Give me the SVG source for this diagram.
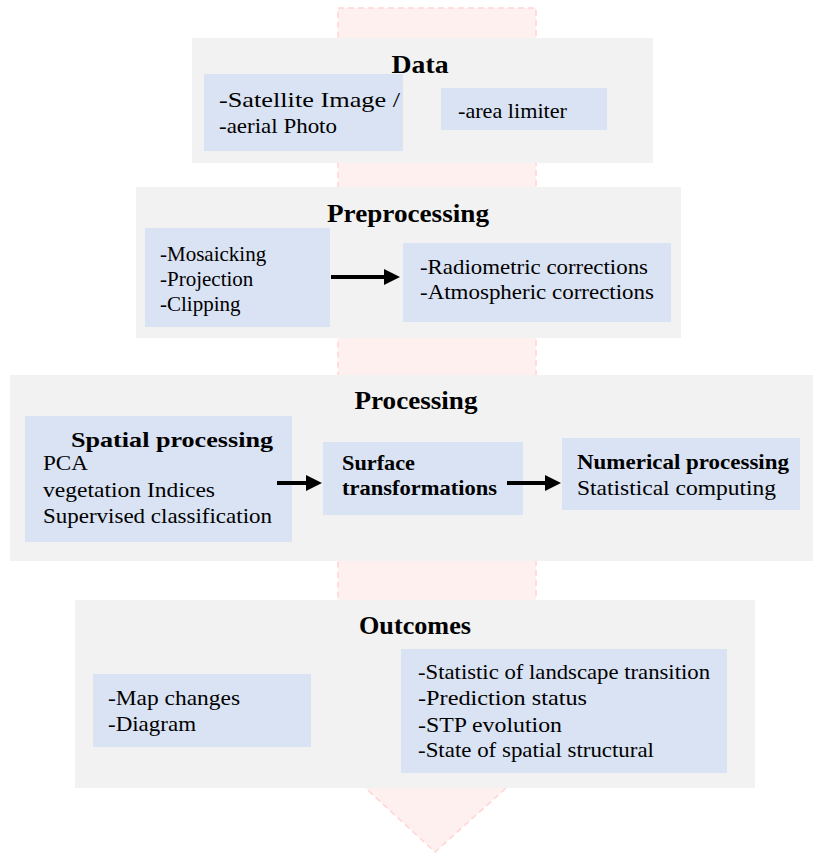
<svg xmlns="http://www.w3.org/2000/svg" width="813" height="853" viewBox="0 0 813 853">
<style>
.panel{fill:#f2f2f2}
.box{fill:#dae3f3}
.t{font-family:"Liberation Serif","Times New Roman",serif;font-size:21px;fill:#000}
.b{font-family:"Liberation Serif","Times New Roman",serif;font-size:21px;font-weight:bold;fill:#000}
.h{font-family:"Liberation Serif","Times New Roman",serif;font-size:26px;font-weight:bold;fill:#000;text-anchor:middle}
.bg{fill:#fff0f0;stroke:#ffd4d4;stroke-width:1.5;stroke-dasharray:6 4}
.conn{stroke:#000;stroke-width:4;fill:none}
</style>
<defs>
<marker id="ah" markerUnits="userSpaceOnUse" markerWidth="16" markerHeight="18" refX="2" refY="9" orient="auto">
<path d="M0,1 L16,9 L0,17 z" fill="#000"/>
</marker>
</defs>
<rect width="813" height="853" fill="#fff"/>
<g id="flow-arrow">
<path class="bg" d="M338,8 L536,8 L536,700 L604,700 L435,852 L270,700 L338,700 Z"/>
</g>
<g id="data">
<rect class="panel" x="192" y="38" width="461" height="125"/>
<text class="h" x="420" y="73" textLength="57" lengthAdjust="spacingAndGlyphs">Data</text>
<g id="data-source">
<rect class="box" x="204" y="74" width="199" height="77"/>
<text class="t" x="219" y="107" textLength="181" lengthAdjust="spacingAndGlyphs">-Satellite Image /</text>
<text class="t" x="219" y="133" textLength="118" lengthAdjust="spacingAndGlyphs">-aerial Photo</text>
</g>
<g id="data-area">
<rect class="box" x="441" y="88" width="166" height="42"/>
<text class="t" x="458" y="118" textLength="109" lengthAdjust="spacingAndGlyphs">-area limiter</text>
</g>
</g>
<g id="preprocessing">
<rect class="panel" x="136" y="187" width="545" height="151"/>
<text class="h" x="408" y="222" textLength="162" lengthAdjust="spacingAndGlyphs">Preprocessing</text>
<g id="pre-geometric">
<rect class="box" x="145" y="228" width="185" height="99"/>
<text class="t" x="160" y="261">-Mosaicking</text>
<text class="t" x="160" y="286">-Projection</text>
<text class="t" x="160" y="311">-Clipping</text>
</g>
<g id="pre-corrections">
<rect class="box" x="403" y="243" width="268" height="79"/>
<text class="t" x="420" y="274" textLength="228" lengthAdjust="spacingAndGlyphs">-Radiometric corrections</text>
<text class="t" x="420" y="299" textLength="234" lengthAdjust="spacingAndGlyphs">-Atmospheric corrections</text>
</g>
</g>
<g id="processing">
<rect class="panel" x="10" y="375" width="803" height="186"/>
<text class="h" x="416" y="409" textLength="123" lengthAdjust="spacingAndGlyphs">Processing</text>
<g id="spatial">
<rect class="box" x="25" y="416" width="267" height="126"/>
<text class="b" x="71" y="447" textLength="202" lengthAdjust="spacingAndGlyphs">Spatial processing</text>
<text class="t" x="43" y="470" textLength="45" lengthAdjust="spacingAndGlyphs">PCA</text>
<text class="t" x="43" y="497" textLength="172" lengthAdjust="spacingAndGlyphs">vegetation Indices</text>
<text class="t" x="43" y="523" textLength="229" lengthAdjust="spacingAndGlyphs">Supervised classification</text>
</g>
<g id="surface">
<rect class="box" x="323" y="442" width="200" height="73"/>
<text class="b" x="342" y="470" textLength="73" lengthAdjust="spacingAndGlyphs">Surface</text>
<text class="b" x="342" y="495" textLength="155" lengthAdjust="spacingAndGlyphs">transformations</text>
</g>
<g id="numerical">
<rect class="box" x="562" y="438" width="238" height="72"/>
<text class="b" x="577" y="469" textLength="212" lengthAdjust="spacingAndGlyphs">Numerical processing</text>
<text class="t" x="577" y="495" textLength="199" lengthAdjust="spacingAndGlyphs">Statistical computing</text>
</g>
</g>
<g id="outcomes">
<rect class="panel" x="75" y="600" width="680" height="188"/>
<text class="h" x="415" y="634" textLength="112" lengthAdjust="spacingAndGlyphs">Outcomes</text>
<g id="out-maps">
<rect class="box" x="93" y="674" width="218" height="73"/>
<text class="t" x="108" y="705" textLength="132" lengthAdjust="spacingAndGlyphs">-Map changes</text>
<text class="t" x="108" y="731" textLength="88" lengthAdjust="spacingAndGlyphs">-Diagram</text>
</g>
<g id="out-stats">
<rect class="box" x="401" y="649" width="326" height="124"/>
<text class="t" x="418" y="679" textLength="292" lengthAdjust="spacingAndGlyphs">-Statistic of landscape transition</text>
<text class="t" x="418" y="705" textLength="169" lengthAdjust="spacingAndGlyphs">-Prediction status</text>
<text class="t" x="418" y="732" textLength="144" lengthAdjust="spacingAndGlyphs">-STP evolution</text>
<text class="t" x="418" y="757" textLength="236" lengthAdjust="spacingAndGlyphs">-State of spatial structural</text>
</g>
</g>
<g id="connectors">
<line class="conn" x1="331" y1="277" x2="386" y2="277" marker-end="url(#ah)"/>
<line class="conn" x1="277" y1="483" x2="308" y2="483" marker-end="url(#ah)"/>
<line class="conn" x1="507" y1="483" x2="547" y2="483" marker-end="url(#ah)"/>
</g>
</svg>
